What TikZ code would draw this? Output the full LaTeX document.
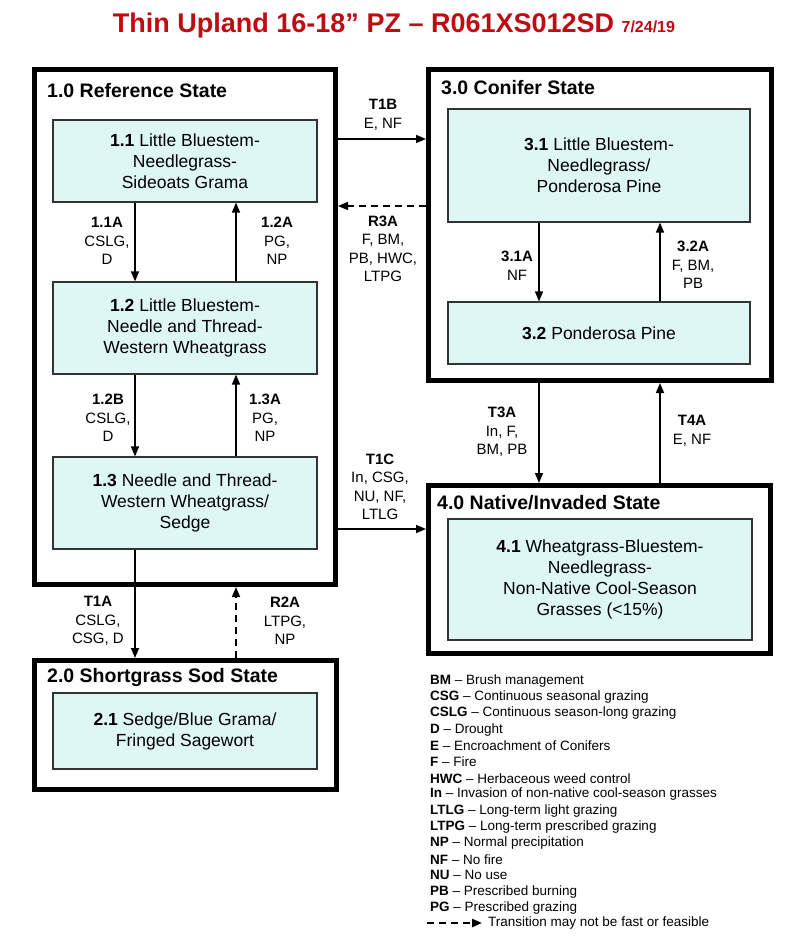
\documentclass[tikz,border=0pt]{standalone}
\usepackage{fontspec}
\setmainfont{Liberation Sans}
\usetikzlibrary{arrows.meta}
\definecolor{boxfill}{RGB}{222,247,242}
\definecolor{titlered}{RGB}{190,12,18}
\tikzset{
  state/.style={draw=black, line width=5pt, inner sep=0pt},
  statetitle/.style={anchor=west, inner sep=0pt, font=\bfseries\fontsize{19.5}{22}\selectfont},
  comm/.style={draw=black!80, line width=1.2pt, fill=boxfill, align=center, inner sep=0pt, font=\fontsize{17.5}{21}\selectfont},
  lbl/.style={align=center, inner sep=0pt, font=\fontsize{15}{18.5}\selectfont},
  legend/.style={anchor=west, inner sep=0pt, font=\fontsize{13.5}{16}\selectfont},
  arr/.style={-{Triangle[length=10pt,width=8pt]}, line width=1.5pt},
  dasharr/.style={arr, dash pattern=on 7pt off 5pt}
}
\begin{document}
\begin{tikzpicture}[x=1pt,y=-1pt]
\useasboundingbox (0,0) rectangle (800,936);
% title
\node[anchor=base, inner sep=0pt, text=titlered, font=\bfseries\fontsize{27}{30}\selectfont] (title) at (394,33) {Thin Upland 16-18” PZ – R061XS012SD {\fontsize{16}{18}\selectfont 7/24/19}};
% states
\node[state, minimum width=301pt, minimum height=515pt] (s1) at (185,327) {};
\node[state, minimum width=343pt, minimum height=311pt] (s3) at (600,225) {};
\node[state, minimum width=342pt, minimum height=168pt] (s4) at (599.5,569.5) {};
\node[state, minimum width=302pt, minimum height=129pt] (s2) at (185.5,725) {};
\node[statetitle] (t1) at (47,91) {1.0 Reference State};
\node[statetitle] (t3) at (441,88) {3.0 Conifer State};
\node[statetitle] (t4) at (437,503) {4.0 Native/Invaded State};
\node[statetitle] (t2) at (47,677) {2.0 Shortgrass Sod State};
% communities
\node[comm, minimum width=264pt, minimum height=82pt] (b11) at (185,161) {\textbf{1.1} Little Bluestem-\\Needlegrass-\\Sideoats Grama};
\node[comm, minimum width=264pt, minimum height=92pt] (b12) at (185,328) {\textbf{1.2} Little Bluestem-\\Needle and Thread-\\Western Wheatgrass};
\node[comm, minimum width=264pt, minimum height=92pt] (b13) at (185,503) {\textbf{1.3} Needle and Thread-\\Western Wheatgrass/\\Sedge};
\node[comm, minimum width=264pt, minimum height=76pt] (b21) at (185,731) {\textbf{2.1} Sedge/Blue Grama/\\Fringed Sagewort};
\node[comm, minimum width=302pt, minimum height=113pt] (b31) at (599,165.5) {\textbf{3.1} Little Bluestem-\\Needlegrass/\\Ponderosa Pine};
\node[comm, minimum width=302pt, minimum height=62pt] (b32) at (599,333) {\textbf{3.2} Ponderosa Pine};
\node[comm, minimum width=304pt, minimum height=121pt] (b41) at (600,579.5) {\textbf{4.1} Wheatgrass-Bluestem-\\Needlegrass-\\Non-Native Cool-Season\\Grasses (<15\%)};
% pathways within states
\draw[arr] ([xshift=-50pt]b11.south) -- ([xshift=-50pt]b12.north);
\draw[arr] ([xshift=51pt]b12.north) -- ([xshift=51pt]b11.south);
\draw[arr] ([xshift=-50pt]b12.south) -- ([xshift=-50pt]b13.north);
\draw[arr] ([xshift=51pt]b13.north) -- ([xshift=51pt]b12.south);
\draw[arr] ([xshift=-60pt]b31.south) -- ([xshift=-60pt]b32.north);
\draw[arr] ([xshift=61pt]b32.north) -- ([xshift=61pt]b31.south);
% transitions
\coordinate (t1b) at ([yshift=86pt]s3.west);
\coordinate (r3a) at ([yshift=19pt]s3.west);
\coordinate (t1c) at ([yshift=40.5pt]s4.west);
\draw[arr] (s1.east |- t1b) -- (t1b);
\draw[dasharr] (r3a) -- (s1.east |- r3a);
\draw[arr] (s1.east |- t1c) -- (t1c);
\draw[arr] ([xshift=-61pt]s3.south) -- ([xshift=-60.5pt]s4.north);
\draw[arr] ([xshift=60.5pt]s4.north) -- ([xshift=60pt]s3.south);
\draw[arr] ([xshift=-50pt]b13.south) -- ([xshift=-50.5pt]s2.north);
\draw[dasharr] ([xshift=50.5pt]s2.north) -- ([xshift=51pt]s1.south);
% labels
\node[lbl] (l11a) at (107,241) {\textbf{1.1A}\\CSLG,\\D};
\node[lbl] (l12a) at (277,241) {\textbf{1.2A}\\PG,\\NP};
\node[lbl] (l12b) at (108,418) {\textbf{1.2B}\\CSLG,\\D};
\node[lbl] (l13a) at (265,418) {\textbf{1.3A}\\PG,\\NP};
\node[lbl] (l31a) at (517,266) {\textbf{3.1A}\\NF};
\node[lbl] (l32a) at (693,265) {\textbf{3.2A}\\F, BM,\\PB};
\node[lbl] (lt1b) at (383,115) {\textbf{T1B}\\E, NF};
\node[lbl] (lr3a) at (383,249) {\textbf{R3A}\\F, BM,\\PB, HWC,\\LTPG};
\node[lbl] (lt1c) at (380,487) {\textbf{T1C}\\In, CSG,\\NU, NF,\\LTLG};
\node[lbl] (lt3a) at (502,432) {\textbf{T3A}\\In, F,\\BM, PB};
\node[lbl] (lt4a) at (692,431) {\textbf{T4A}\\E, NF};
\node[lbl] (lt1a) at (98,621) {\textbf{T1A}\\CSLG,\\CSG, D};
\node[lbl] (lr2a) at (285,621) {\textbf{R2A}\\LTPG,\\NP};
% legend
\foreach \abbr/\desc [count=\i] in {BM/Brush management, CSG/Continuous seasonal grazing, CSLG/Continuous season-long grazing, D/Drought, E/Encroachment of Conifers, F/Fire, HWC/Herbaceous weed control, In/Invasion of non-native cool-season grasses, LTLG/Long-term light grazing, LTPG/Long-term prescribed grazing, NP/Normal precipitation, NF/No fire, NU/No use, PB/Prescribed burning, PG/Prescribed grazing}
  \node[legend] (leg\i) at (430,{681+16.2*(\i-1)}) {\textbf{\abbr} – \desc};
\coordinate (legstart) at (427,923);
\node[legend] (legdash) at (488,923) {Transition may not be fast or feasible};
\draw[dasharr, line width=2.5pt, dash pattern=on 7pt off 5pt, shorten >=6pt] (legstart) -- (legdash.west);
\end{tikzpicture}
\end{document}
